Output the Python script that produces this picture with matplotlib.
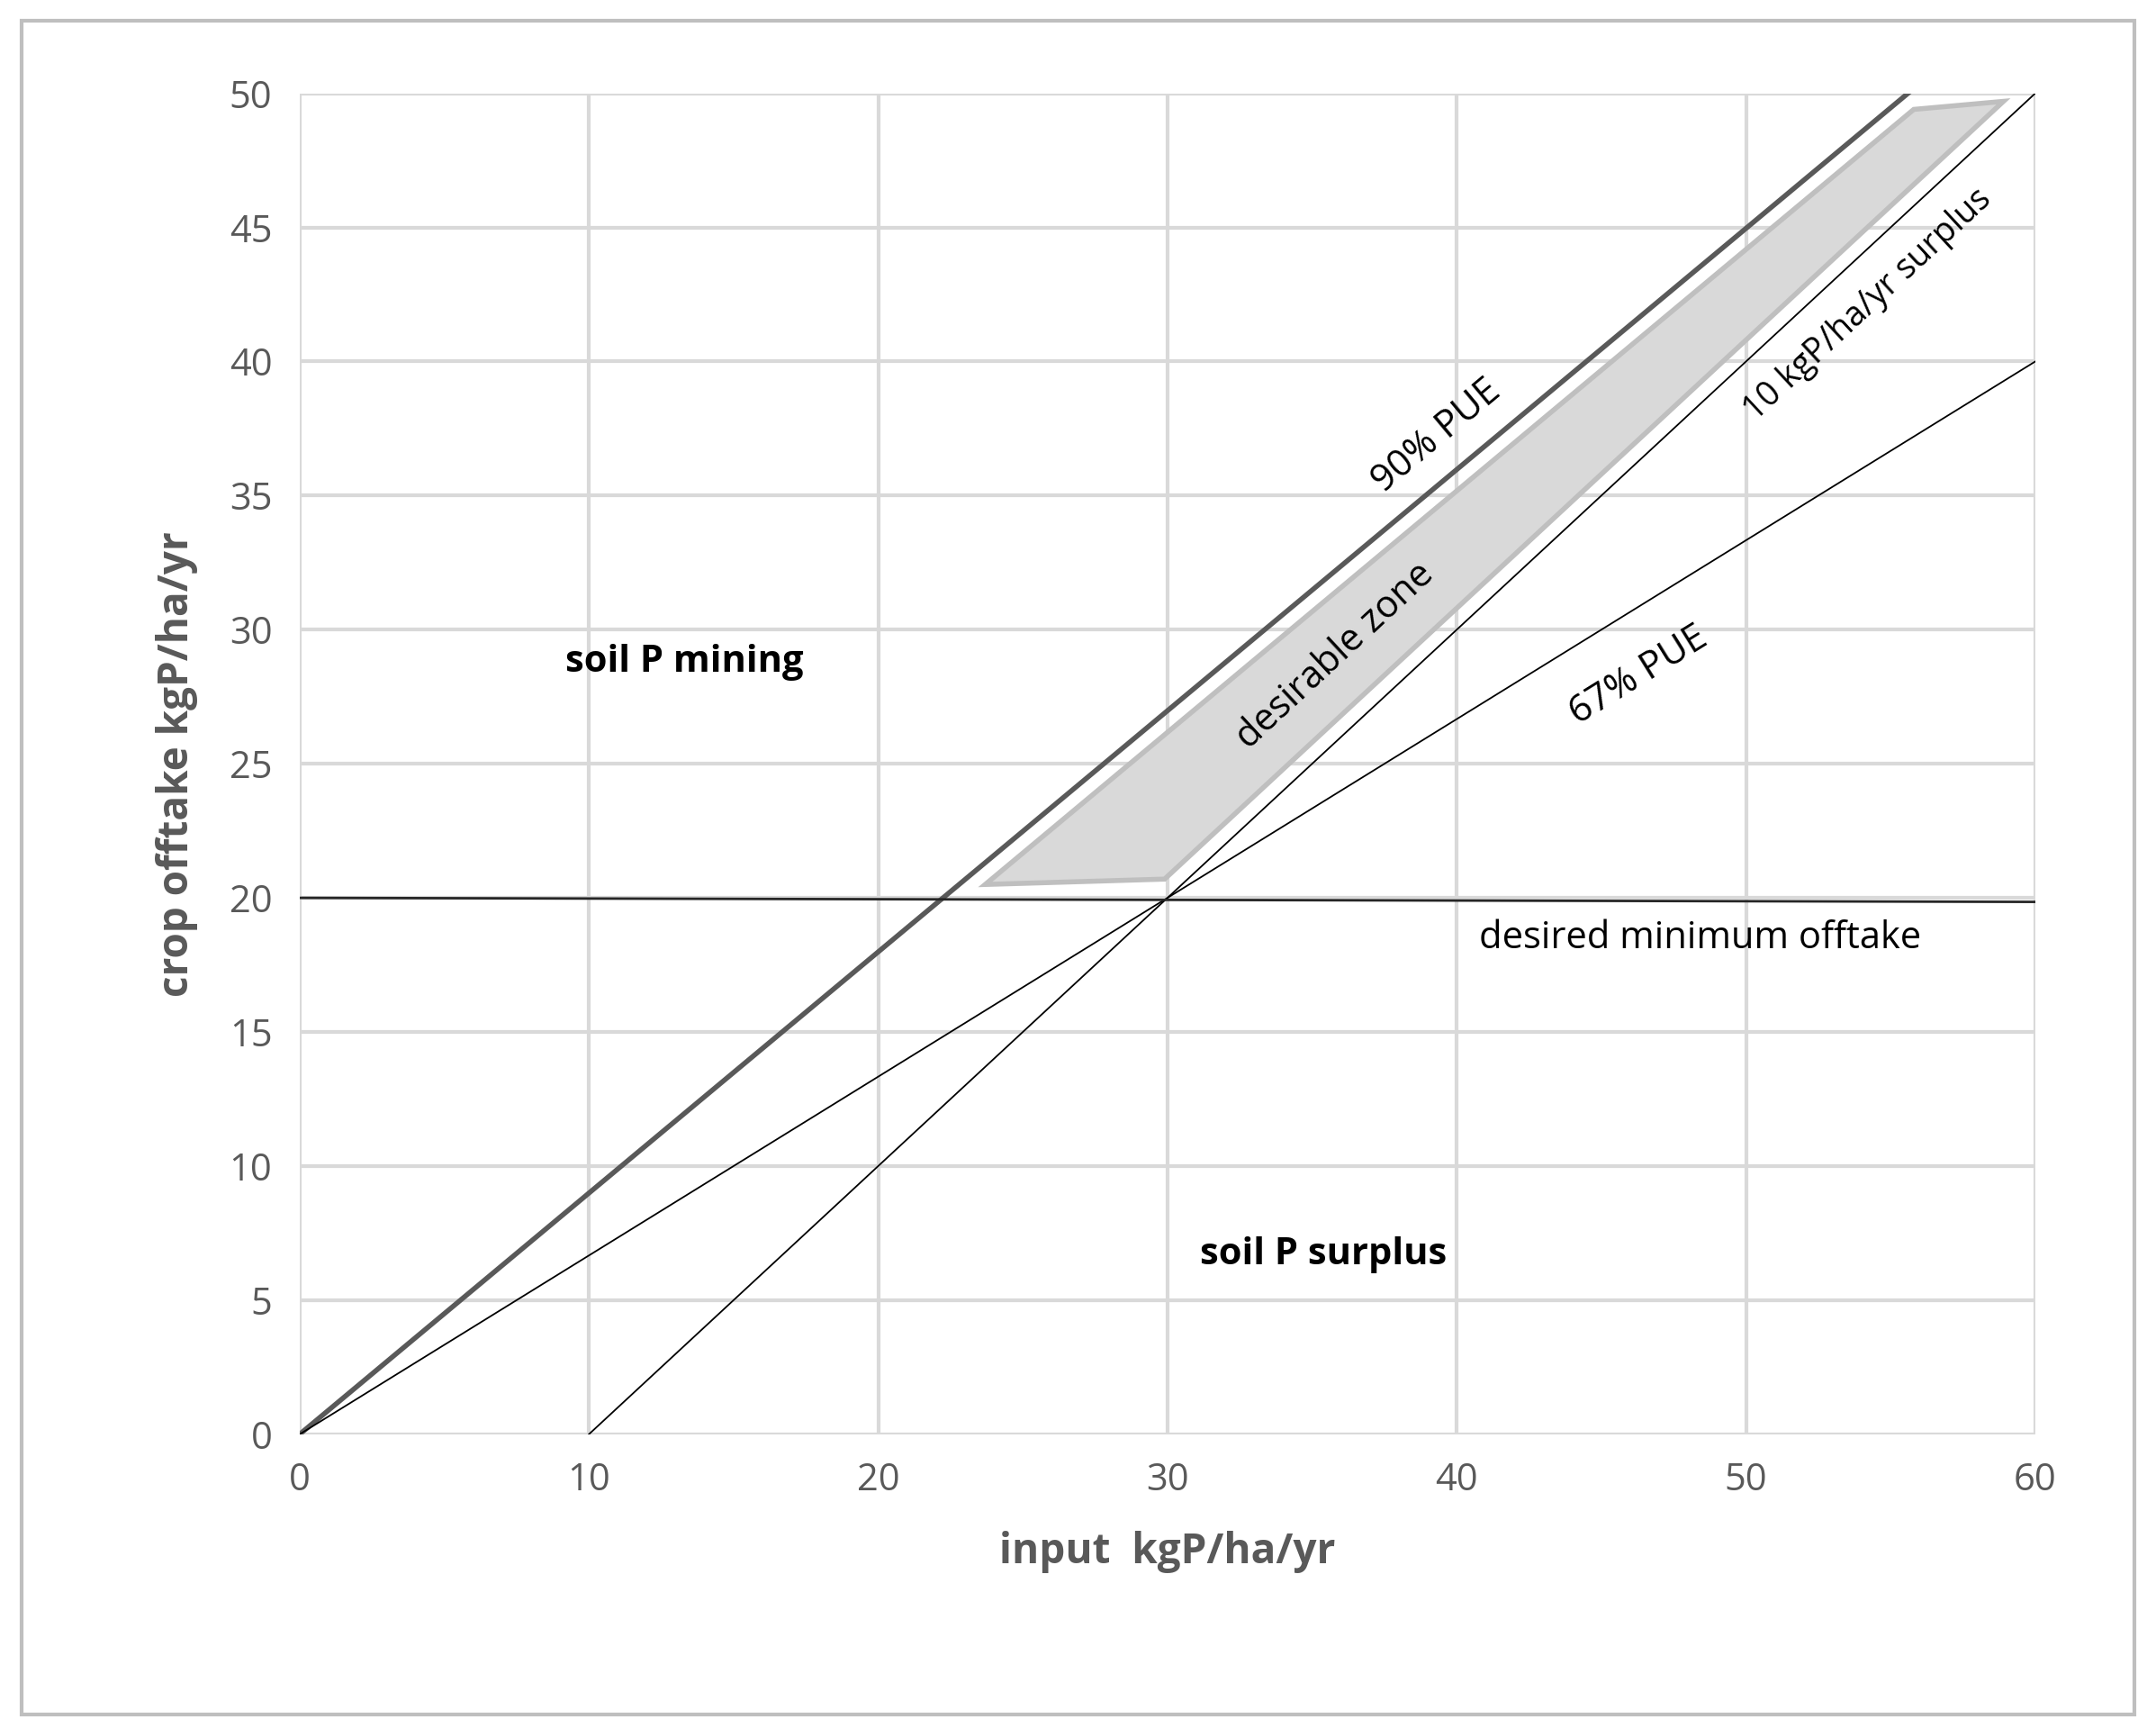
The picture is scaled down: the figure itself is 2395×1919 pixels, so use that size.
import numpy as np
import matplotlib
matplotlib.use('Agg')
import matplotlib.pyplot as plt
from matplotlib.patches import Rectangle

# line definitions (input x, offtake y)
pue90_x = [0, 55.6]
pue90_y = [0, 50]
pue67_x = [0, 60]
pue67_y = [0, 40]
surplus_x = [10, 60]
surplus_y = [0, 50]
minimum_x = [0, 60]
minimum_y = [20, 19.85]
zone_x = [23.7, 29.9, 58.9, 55.8]
zone_y = [20.5, 20.7, 49.7, 49.4]

xticks = [0, 10, 20, 30, 40, 50, 60]
yticks = [0, 5, 10, 15, 20, 25, 30, 35, 40, 45, 50]

plt.rcParams['font.family'] = ['Open Sans', 'DejaVu Sans']

fig = plt.figure(figsize=(23.95, 19.19), dpi=100)
fig.patches.append(Rectangle((0.01, 0.008), 0.98, 0.98, transform=fig.transFigure,
                             fill=False, edgecolor='#bfbfbf', linewidth=3))
ax = fig.add_axes([0.139, 0.170, 0.805, 0.776])

ax.fill(zone_x, zone_y, facecolor='#d9d9d9', edgecolor='#bfbfbf', linewidth=4, zorder=2)
ax.plot(pue90_x, pue90_y, color='#595959', linewidth=4, zorder=3)
ax.plot(pue67_x, pue67_y, color='black', linewidth=1.3, zorder=3)
ax.plot(surplus_x, surplus_y, color='black', linewidth=1.3, zorder=3)
ax.plot(minimum_x, minimum_y, color='#262626', linewidth=2, zorder=3)

ax.set_xlim(0, 60)
ax.set_ylim(0, 50)
ax.set_xticks(xticks)
ax.set_yticks(yticks)
ax.grid(True, color='#d9d9d9', linewidth=3)
ax.set_axisbelow(True)
for s in ax.spines.values():
    s.set_visible(False)
ax.tick_params(length=0, labelsize=30, labelcolor='#595959', pad=22)

ax.set_xlabel('input  kgP/ha/yr', fontsize=33, fontweight='bold', color='#595959', labelpad=25)
ax.set_ylabel('crop offtake kgP/ha/yr', fontsize=33, fontweight='bold', color='#595959', labelpad=25)

tk = dict(fontsize=30, color='black', ha='center', va='center', zorder=4)
ax.text(39.3, 37.2, '90% PUE', rotation=39.9, **tk)
ax.text(35.8, 29.0, 'desirable zone', rotation=42.9, **tk)
ax.text(54.2, 42.1, '10 kgP/ha/yr surplus', rotation=42.9, fontsize=27,
        color='black', ha='center', va='center', zorder=4)
ax.text(46.3, 28.3, '67% PUE', rotation=31.8, **tk)
ax.text(48.4, 18.5, 'desired minimum offtake', **tk)
ax.text(13.3, 28.8, 'soil P mining', fontweight='bold', **tk)
ax.text(35.4, 6.7, 'soil P surplus', fontweight='bold', **tk)

fig.savefig('out.png', dpi=100)
